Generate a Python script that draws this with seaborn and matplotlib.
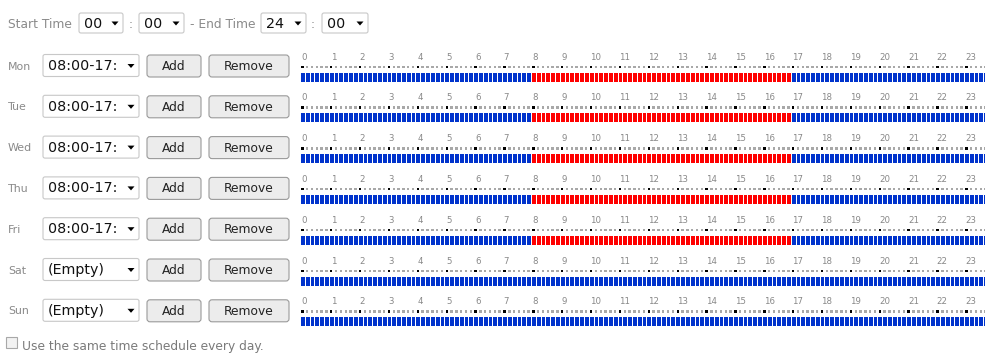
import matplotlib

matplotlib.use("Agg")

import matplotlib.pyplot as plt
import numpy as np
import pandas as pd
import seaborn as sns
from matplotlib.colors import ListedColormap
from matplotlib.patches import FancyBboxPatch, Polygon, Rectangle

# ---------------- data ----------------
DAYS = ["Mon", "Tue", "Wed", "Thu", "Fri", "Sat", "Sun"]
SCHEDULE_TEXT = ["08:00-17:", "08:00-17:", "08:00-17:", "08:00-17:", "08:00-17:",
                 "(Empty)", "(Empty)"]
ACTIVE_START = [8, 8, 8, 8, 8, None, None]   # hour the red window starts
ACTIVE_END = [17, 17, 17, 17, 17, None, None]  # hour the red window ends
HOURS = list(range(24))
SLOTS_PER_HOUR = 6
TOP_VALUES = ["00", "00", "24", "00"]
CHECKBOX_TEXT = "Use the same time schedule every day."

# ---------------- style ----------------
W, H = 985, 354
BLUE = "#0033cc"
RED = "#ff0000"
GRAY_TXT = "#8a8a8a"
sns.set_theme(style="white")
plt.rcParams["font.family"] = ["DejaVu Sans"]

fig = plt.figure(figsize=(W / 100, H / 100), dpi=100)
fig.patch.set_facecolor("white")
ax = fig.add_axes([0, 0, 1, 1])
ax.set_xlim(0, W)
ax.set_ylim(H, 0)
ax.axis("off")


def dropdown(x0, x1, yc, text, h=20):
    ax.add_patch(FancyBboxPatch((x0, yc - h / 2), x1 - x0, h,
                                boxstyle="round,pad=0,rounding_size=2",
                                fc="white", ec="#c8c8c8", lw=0.8))
    ax.text(x0 + 5, yc + 0.5, text, fontsize=10.3, color="#111111",
            va="center", ha="left")
    tx = x1 - 8
    ax.add_patch(Polygon([[tx - 3.5, yc - 1.5], [tx + 3.5, yc - 1.5], [tx, yc + 2.5]],
                         closed=True, fc="black", ec="none"))


def button(x0, x1, yc, text, h=22):
    ax.add_patch(FancyBboxPatch((x0, yc - h / 2), x1 - x0, h,
                                boxstyle="round,pad=0,rounding_size=3",
                                fc="#ececec", ec="#9a9a9a", lw=0.8))
    ax.text((x0 + x1) / 2, yc + 0.5, text, fontsize=8.8, color="#222222",
            va="center", ha="center")


# ---------------- top row ----------------
ytop = 23
ax.text(8, ytop + 1, "Start Time", fontsize=8.8, color=GRAY_TXT, va="center")
dropdown(79, 123, ytop, TOP_VALUES[0])
ax.text(131, ytop + 1, ":", fontsize=8.8, color=GRAY_TXT, va="center", ha="center")
dropdown(139, 184, ytop, TOP_VALUES[1])
ax.text(190, ytop + 1, "- End Time", fontsize=8.8, color=GRAY_TXT, va="center")
dropdown(261, 306, ytop, TOP_VALUES[2])
ax.text(313, ytop + 1, ":", fontsize=8.8, color=GRAY_TXT, va="center", ha="center")
dropdown(322, 368, ytop, TOP_VALUES[3])

# ---------------- day rows ----------------
ROW0, ROW_STEP = 65.5, 40.8
STRIP_X0, HOUR_W = 300, 28.87
cell_h = 10.0
n_slots = len(HOURS) * SLOTS_PER_HOUR
cmap = ListedColormap([BLUE, RED])

for d, day in enumerate(DAYS):
    yc = ROW0 + ROW_STEP * d
    ax.text(8, yc + 1, day, fontsize=7.9, color=GRAY_TXT, va="center")
    dropdown(43, 139, yc, SCHEDULE_TEXT[d], h=22)
    button(147, 201, yc + 0.5, "Add")
    button(209, 289, yc + 0.5, "Remove")

    # slot states for this day
    slot_hour = np.arange(n_slots) / SLOTS_PER_HOUR
    state = np.zeros(n_slots)
    if ACTIVE_START[d] is not None:
        state[(slot_hour >= ACTIVE_START[d]) & (slot_hour < ACTIVE_END[d])] = 1
    df = pd.DataFrame([state])

    bar_top = yc + 6.5 - 0.4
    ylim_top = -2.15
    ax_h = (1 - ylim_top) * cell_h
    sax = fig.add_axes([STRIP_X0 / W, (H - (bar_top + cell_h)) / H,
                        HOUR_W * len(HOURS) / W, ax_h / H])
    sns.heatmap(df, ax=sax, cmap=cmap, vmin=0, vmax=1, cbar=False,
                linewidths=0.7, linecolor="white",
                xticklabels=False, yticklabels=False)
    sax.set_ylim(1, ylim_top)
    sax.axis("off")

    dots = pd.DataFrame({"x": np.arange(n_slots) + 0.5,
                         "y": -0.48,
                         "hour": np.arange(n_slots) % SLOTS_PER_HOUR == 0})
    sns.scatterplot(data=dots, x="x", y="y", hue="hour",
                    palette={True: "black", False: "#a8a8a8"},
                    marker="s", s=3.0, linewidth=0, legend=False, ax=sax)
    sax.set_ylim(1, ylim_top)
    sax.set_xlim(0, n_slots)
    sax.axis("off")
    for h in HOURS:
        sax.text(h * SLOTS_PER_HOUR + 0.35, -1.45, str(h), fontsize=6.2,
                 color="#888888", ha="left", va="center")

# ---------------- checkbox ----------------
ax.add_patch(Rectangle((6, 337), 11, 11, fc="#f2f2f2", ec="#a8a8a8", lw=0.8))
ax.text(22, 346.5, CHECKBOX_TEXT, fontsize=8.8, color="#7a7a7a", va="center")

fig.savefig("out.png", dpi=100, facecolor="white")
